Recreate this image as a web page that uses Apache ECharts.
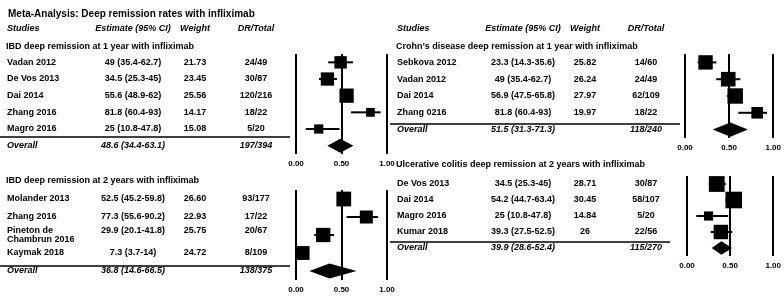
<!DOCTYPE html>
<html>
<head>
<meta charset="utf-8">
<script src="https://cdn.jsdelivr.net/npm/echarts@6/dist/echarts.min.js"></script>
<style>
html, body { margin: 0; padding: 0; background: #fff; }
#chart { width: 784px; height: 296px; }
</style>
</head>
<body>
<div id="chart"></div>
<script>
const FONT = '"Liberation Sans", Arial, sans-serif';

// IBD deep remission at 1 year
const ibd1Studies = ['Vadan 2012', 'De Vos 2013', 'Dai 2014', 'Zhang 2016', 'Magro 2016'];
const ibd1Est = [49, 34.5, 55.6, 81.8, 25];
const ibd1Lo = [35.4, 25.3, 48.9, 60.4, 10.8];
const ibd1Hi = [62.7, 45, 62, 93, 47.8];
const ibd1Weight = ['21.73', '23.45', '25.56', '14.17', '15.08'];
const ibd1DR = ['24/49', '30/87', '120/216', '18/22', '5/20'];
const ibd1Overall = [48.6, 34.4, 63.1];
const ibd1OverallDR = '197/394';

// Crohn's disease deep remission at 1 year
const cd1Studies = ['Sebkova 2012', 'Vadan 2012', 'Dai 2014', 'Zhang 0216'];
const cd1Est = [23.3, 49, 56.9, 81.8];
const cd1Lo = [14.3, 35.4, 47.5, 60.4];
const cd1Hi = [35.6, 62.7, 65.8, 93];
const cd1Weight = ['25.82', '26.24', '27.97', '19.97'];
const cd1DR = ['14/60', '24/49', '62/109', '18/22'];
const cd1Overall = [51.5, 31.3, 71.3];
const cd1OverallDR = '118/240';

// IBD deep remission at 2 years
const ibd2Studies = ['Molander 2013', 'Zhang 2016', 'Pineton de\nChambrun 2016', 'Kaymak 2018'];
const ibd2Est = [52.5, 77.3, 29.9, 7.3];
const ibd2Lo = [45.2, 55.6, 20.1, 3.7];
const ibd2Hi = [59.8, 90.2, 41.8, 14];
const ibd2Weight = ['26.60', '22.93', '25.75', '24.72'];
const ibd2DR = ['93/177', '17/22', '20/67', '8/109'];
const ibd2Overall = [36.8, 14.6, 66.5];
const ibd2OverallDR = '138/375';

// Ulcerative colitis deep remission at 2 years
const uc2Studies = ['De Vos 2013', 'Dai 2014', 'Magro 2016', 'Kumar 2018'];
const uc2Est = [34.5, 54.2, 25, 39.3];
const uc2Lo = [25.3, 44.7, 10.8, 27.5];
const uc2Hi = [45, 63.4, 47.8, 52.5];
const uc2Weight = ['28.71', '30.45', '14.84', '26'];
const uc2DR = ['30/87', '58/107', '5/20', '22/56'];
const uc2Overall = [39.9, 28.6, 52.4];
const uc2OverallDR = '115/270';

const panels = [
  { name: 'IBD deep remission at 1 year with infliximab',
    studies: ibd1Studies, est: ibd1Est, lo: ibd1Lo, hi: ibd1Hi, weight: ibd1Weight, dr: ibd1DR,
    overall: ibd1Overall, overallDR: ibd1OverallDR,
    x0: 0, grid: { left: 296, top: 54, width: 91, height: 100 }, nameY: 47, ruleY: 137, ruleW: 290, header: true },
  { name: 'Crohn\u2019s disease deep remission at 1 year with infliximab',
    studies: cd1Studies, est: cd1Est, lo: cd1Lo, hi: cd1Hi, weight: cd1Weight, dr: cd1DR,
    overall: cd1Overall, overallDR: cd1OverallDR,
    x0: 390, grid: { left: 685, top: 54, width: 91, height: 84 }, nameY: 47, ruleY: 124, ruleW: 290, header: true },
  { name: 'IBD deep remission at 2 years with infliximab',
    studies: ibd2Studies, est: ibd2Est, lo: ibd2Lo, hi: ibd2Hi, weight: ibd2Weight, dr: ibd2DR,
    overall: ibd2Overall, overallDR: ibd2OverallDR,
    x0: 0, grid: { left: 296, top: 190, width: 91, height: 90 }, nameY: 181, ruleY: 266, ruleW: 290, header: false },
  { name: 'Ulcerative colitis deep remission at 2 years with infliximab',
    studies: uc2Studies, est: uc2Est, lo: uc2Lo, hi: uc2Hi, weight: uc2Weight, dr: uc2DR,
    overall: uc2Overall, overallDR: uc2OverallDR,
    x0: 390, grid: { left: 687, top: 176, width: 90, height: 80 }, nameY: 165, ruleY: 242, ruleW: 280, header: false }
];

// column widths of the table part (study | estimate | weight | DR/total)
const COLS = [86, 80, 44, 78];

function tok(w, align, italic) {
  return {
    width: w, align: align, fontFamily: FONT, fontSize: 9, fontWeight: 'bold',
    fontStyle: italic ? 'italic' : 'normal', color: '#000', lineHeight: 9
  };
}
const rich = {
  n: tok(COLS[0], 'left'), e: tok(COLS[1], 'center'), w: tok(COLS[2], 'center'), d: tok(COLS[3], 'center'),
  no: tok(COLS[0], 'left', true), eo: tok(COLS[1], 'center', true), wo: tok(COLS[2], 'center', true), do: tok(COLS[3], 'center', true)
};

function rowLabel(p, i) {
  if (i === p.studies.length) {
    return '{no|Overall}{eo|' + p.overall[0] + ' (' + p.overall[1] + '-' + p.overall[2] + ')}{wo| }{do|' + p.overallDR + '}';
  }
  const parts = p.studies[i].split('\n');
  let s = '{n|' + parts[0] + '}{e|' + p.est[i] + ' (' + p.lo[i] + '-' + p.hi[i] + ')}{w|' + p.weight[i] + '}{d|' + p.dr[i] + '}';
  if (parts.length > 1) s += '\n{n|' + parts[1] + '}';
  return s;
}

const grids = [], xAxes = [], yAxes = [], series = [], graphics = [];

graphics.push({
  type: 'text', x: 8, y: 14.5,
  style: { text: 'Meta-Analysis: Deep remission rates with infliximab', font: 'bold 10px ' + FONT, fill: '#000', align: 'left', verticalAlign: 'middle' }
});

panels.forEach((p, k) => {
  const n = p.studies.length;
  grids.push(Object.assign({ containLabel: false }, p.grid));
  xAxes.push({
    type: 'value', gridIndex: k, min: 0, max: 100, interval: 50,
    axisLine: { show: false }, axisTick: { show: false },
    splitLine: { show: true, lineStyle: { color: '#000', width: 2 } },
    axisLabel: {
      margin: 6, color: '#000', fontFamily: FONT, fontSize: 8, fontWeight: 'bold',
      formatter: v => (v / 100).toFixed(2)
    }
  });
  yAxes.push({
    type: 'category', gridIndex: k, inverse: true,
    data: p.studies.concat(['Overall']),
    axisLine: { show: false }, axisTick: { show: false }, splitLine: { show: false },
    axisLabel: {
      interval: 0, margin: p.grid.left - (p.x0 + 7 + COLS[0] + COLS[1] + COLS[2] + COLS[3]),
      fontFamily: FONT, fontSize: 9, color: '#000', rich: rich,
      formatter: (value, i) => rowLabel(p, i)
    }
  });

  // confidence intervals
  series.push({
    type: 'custom', xAxisIndex: k, yAxisIndex: k, z: 3, clip: false,
    encode: { x: [0, 1], y: 2 },
    data: p.lo.map((v, i) => [v, p.hi[i], i]),
    renderItem: (params, api) => {
      const a = api.coord([api.value(0), api.value(2)]);
      const b = api.coord([api.value(1), api.value(2)]);
      return { type: 'line', shape: { x1: a[0], y1: a[1], x2: b[0], y2: b[1] }, style: { stroke: '#000', lineWidth: 2 } };
    }
  });
  // study estimates, square size from weight
  series.push({
    type: 'scatter', xAxisIndex: k, yAxisIndex: k, z: 4, symbol: 'rect',
    data: p.est.map((v, i) => [v, i, parseFloat(p.weight[i])]),
    symbolSize: val => 2 + val[2] * 0.48,
    itemStyle: { color: '#000', opacity: 1 }
  });
  // pooled estimate diamond
  series.push({
    type: 'custom', xAxisIndex: k, yAxisIndex: k, z: 4, clip: false,
    encode: { x: [0, 1, 2], y: 3 },
    data: [[p.overall[1], p.overall[0], p.overall[2], n]],
    renderItem: (params, api) => {
      const h = api.size([0, 1])[1] * 0.42;
      const l = api.coord([api.value(0), api.value(3)]);
      const c = api.coord([api.value(1), api.value(3)]);
      const r = api.coord([api.value(2), api.value(3)]);
      return {
        type: 'polygon',
        shape: { points: [[l[0], l[1]], [c[0], c[1] - h], [r[0], r[1]], [c[0], c[1] + h]] },
        style: { fill: '#000' }
      };
    }
  });

  // table header, subgroup name and rule above "Overall"
  if (p.header) {
    const hx = [p.x0 + 7, p.x0 + 7 + COLS[0] + COLS[1] / 2, p.x0 + 7 + COLS[0] + COLS[1] + COLS[2] / 2,
      p.x0 + 7 + COLS[0] + COLS[1] + COLS[2] + COLS[3] / 2];
    ['Studies', 'Estimate (95% CI)', 'Weight', 'DR/Total'].forEach((t, j) => {
      graphics.push({
        type: 'text', x: hx[j], y: 29,
        style: { text: t, font: 'italic bold 9px ' + FONT, fill: '#000', align: j === 0 ? 'left' : 'center', verticalAlign: 'middle' }
      });
    });
  }
  graphics.push({
    type: 'text', x: p.x0 + 6, y: p.nameY,
    style: { text: p.name, font: 'bold 9px ' + FONT, fill: '#000', align: 'left', verticalAlign: 'middle' }
  });
  graphics.push({
    type: 'line', shape: { x1: p.x0, y1: p.ruleY, x2: p.x0 + p.ruleW, y2: p.ruleY },
    style: { stroke: '#000', lineWidth: 1.5 }
  });
});

const chart = echarts.init(document.getElementById('chart'), null, { renderer: 'canvas' });
chart.setOption({
  backgroundColor: '#fff',
  animation: false,
  grid: grids,
  xAxis: xAxes,
  yAxis: yAxes,
  series: series,
  graphic: graphics
});
window.addEventListener('resize', () => chart.resize());
</script>
</body>
</html>
